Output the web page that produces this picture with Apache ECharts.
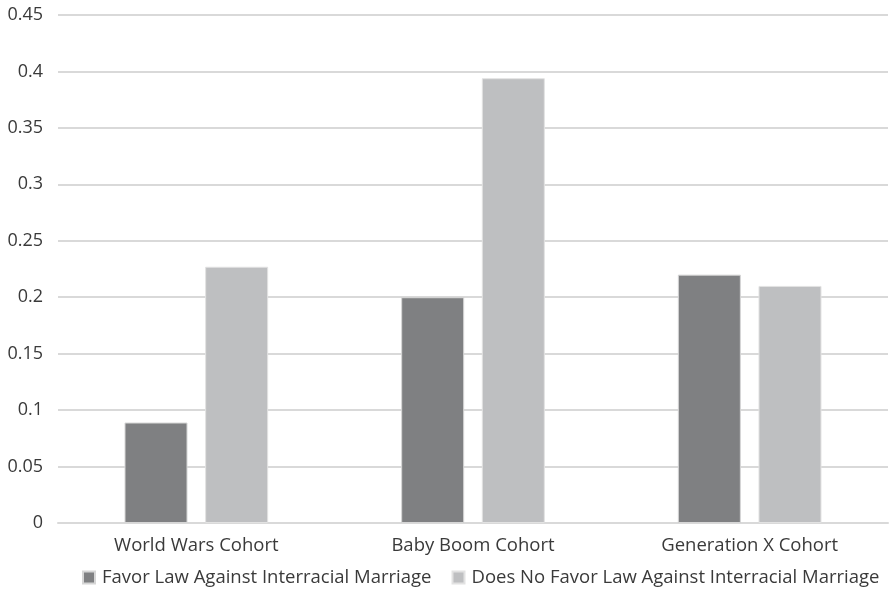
<!DOCTYPE html>
<html>
<head>
<meta charset="utf-8">
<script src="https://cdn.jsdelivr.net/npm/echarts@6/dist/echarts.min.js"></script>
<style>
  html, body { margin: 0; padding: 0; background: #fff; }
  #chart { width: 893px; height: 590px; }
</style>
</head>
<body>
<div id="chart"></div>
<script>
// Cohorts on the x axis
const cohorts = ['World Wars Cohort', 'Baby Boom Cohort', 'Generation X Cohort'];
// Series names
const seriesNames = ['Favor Law Against Interracial Marriage', 'Does No Favor Law Against Interracial Marriage'];
// Share of respondents per cohort
const favorValues = [0.089, 0.200, 0.220];
const notFavorValues = [0.227, 0.394, 0.210];
// Y axis tick labels
const yTickLabels = ['0', '0.05', '0.1', '0.15', '0.2', '0.25', '0.3', '0.35', '0.4', '0.45'];

const font = '"Open Sans", sans-serif';
const textColor = '#3a3a3a';
const chart = echarts.init(document.getElementById('chart'), null, { renderer: 'canvas' });

chart.setOption({
  animation: false,
  backgroundColor: '#ffffff',
  grid: { left: 58, right: 5, top: 15, bottom: 67, containLabel: false },
  legend: {
    top: 563,
    left: 77,
    itemWidth: 12,
    itemHeight: 12,
    itemGap: 20,
    icon: 'rect',
    textStyle: { fontFamily: font, fontSize: 18.5, color: textColor, padding: [0, 0, 0, 2] },
    data: seriesNames
  },
  xAxis: {
    type: 'category',
    data: cohorts,
    axisLine: { show: true, lineStyle: { color: '#d9d9d9', width: 2 } },
    axisTick: { show: false },
    axisLabel: { fontFamily: font, fontSize: 18.5, color: textColor, margin: 13 }
  },
  yAxis: {
    type: 'value',
    min: 0,
    max: 0.45,
    interval: 0.05,
    axisLine: { show: false },
    axisTick: { show: false },
    splitLine: { lineStyle: { color: '#d9d9d9', width: 2 } },
    axisLabel: {
      fontFamily: font, fontSize: 18, color: textColor, margin: 15,
      formatter: (v) => yTickLabels[Math.round(v / 0.05)]
    }
  },
  series: [
    {
      name: seriesNames[0],
      type: 'bar',
      data: favorValues,
      barWidth: 63,
      barGap: '28%',
      itemStyle: { color: '#7f8082', borderColor: '#d6d6d6', borderWidth: 1 }
    },
    {
      name: seriesNames[1],
      type: 'bar',
      data: notFavorValues,
      barWidth: 63,
      itemStyle: { color: '#bebfc1', borderColor: '#e2e2e2', borderWidth: 1 }
    }
  ]
});
</script>
</body>
</html>
